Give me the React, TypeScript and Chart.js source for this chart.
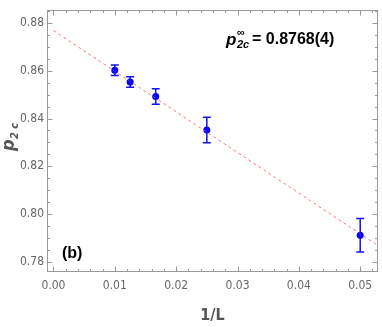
import React, { useEffect, useRef } from "react";
import { Chart, registerables } from "chart.js";

Chart.register(...registerables);

// ---- data ----
const invL = [0.01, 0.0125, 0.01667, 0.025, 0.05];
const p2c = [0.8602, 0.8553, 0.8492, 0.8352, 0.7912];
const p2cErr = [0.0022, 0.0022, 0.0032, 0.0053, 0.007];

const fitX = [0, 0.0527];
const fitY = [0.8768, 0.7872];

const xTicks = [0, 0.01, 0.02, 0.03, 0.04, 0.05];
const yTicks = [0.78, 0.8, 0.82, 0.84, 0.86, 0.88];
const xMinorStep = 0.002;
const yMinorStep = 0.005;

const annotationValue = "= 0.8768(4)";
const panelLabel = "(b)";
const xTitle = "1/L";

const NARROW = "'Liberation Sans Narrow', 'DejaVu Sans Condensed', 'Liberation Sans', sans-serif";
const REGULAR = "'Liberation Sans', Arial, sans-serif";

const FRAME = "#9a9a9a";

function minorValues(min: number, max: number, step: number) {
  const out: number[] = [];
  const start = Math.ceil(min / step - 1e-9);
  const end = Math.floor(max / step + 1e-9);
  for (let i = start; i <= end; i++) out.push(i * step);
  return out;
}

const framePlugin = {
  id: "frameTicks",
  beforeDatasetsDraw(chart: any) {
    const { ctx, chartArea: a, scales } = chart;
    const x = scales.x;
    const y = scales.y;
    const L = Math.round(a.left) + 0.5;
    const R = Math.round(a.right) - 0.5;
    const T = Math.round(a.top) + 0.5;
    const B = Math.round(a.bottom) - 0.5;
    ctx.save();
    ctx.strokeStyle = FRAME;
    ctx.lineWidth = 1;
    ctx.strokeRect(L, T, R - L, B - T);
    ctx.beginPath();
    const xm = minorValues(x.min, x.max, xMinorStep);
    const ym = minorValues(y.min, y.max, yMinorStep);
    const isMajor = (v: number, arr: number[]) => arr.some((t) => Math.abs(t - v) < 1e-7);
    xm.forEach((v) => {
      const len = isMajor(v, xTicks) ? 5 : 2.5;
      const px = Math.round(x.getPixelForValue(v)) + 0.5;
      ctx.moveTo(px, B);
      ctx.lineTo(px, B - len);
      ctx.moveTo(px, T);
      ctx.lineTo(px, T + len);
    });
    ym.forEach((v) => {
      const len = isMajor(v, yTicks) ? 5 : 2.5;
      const py = Math.round(y.getPixelForValue(v)) + 0.5;
      ctx.moveTo(L, py);
      ctx.lineTo(L + len, py);
      ctx.moveTo(R, py);
      ctx.lineTo(R - len, py);
    });
    ctx.stroke();
    ctx.restore();
  },
  afterDatasetsDraw(chart: any) {
    const { ctx, scales } = chart;
    const x = scales.x;
    const y = scales.y;
    ctx.save();
    // error bars
    ctx.strokeStyle = "#1010ff";
    ctx.lineWidth = 1.5;
    ctx.beginPath();
    invL.forEach((v, i) => {
      const px = x.getPixelForValue(v);
      const top = y.getPixelForValue(p2c[i] + p2cErr[i]);
      const bot = y.getPixelForValue(p2c[i] - p2cErr[i]);
      ctx.moveTo(px, top);
      ctx.lineTo(px, bot);
      ctx.moveTo(px - 4, top);
      ctx.lineTo(px + 4, top);
      ctx.moveTo(px - 4, bot);
      ctx.lineTo(px + 4, bot);
    });
    ctx.stroke();

    // y axis title p_{2c}
    ctx.save();
    ctx.translate(0, 136);
    ctx.rotate(-Math.PI / 2);
    ctx.fillStyle = "#555";
    ctx.textBaseline = "alphabetic";
    ctx.textAlign = "left";
    ctx.font = `italic bold 18px ${NARROW}`;
    ctx.fillText("p", -15, 14);
    ctx.font = `italic bold 11px ${NARROW}`;
    ctx.fillText("2 c", -3, 17.5);
    ctx.restore();

    // annotation p^inf_{2c} = ...
    ctx.fillStyle = "#000";
    ctx.textAlign = "left";
    ctx.textBaseline = "alphabetic";
    ctx.font = `italic bold 17px ${REGULAR}`;
    ctx.fillText("p", 226, 45);
    ctx.font = `bold 11px ${REGULAR}`;
    ctx.fillText("\u221E", 237, 36);
    ctx.font = `italic bold 11px ${REGULAR}`;
    ctx.fillText("2c", 237, 48);
    ctx.font = `bold 16px ${REGULAR}`;
    ctx.fillText(annotationValue, 252, 44);

    // panel label
    ctx.font = `bold 16px ${REGULAR}`;
    ctx.fillText(panelLabel, 62, 258);
    ctx.restore();
  },
};

export default function App() {
  const ref = useRef<HTMLCanvasElement | null>(null);
  useEffect(() => {
    document.body.style.margin = "0";
    if (!ref.current) return;
    const chart = new Chart(ref.current, {
      type: "scatter",
      data: {
        datasets: [
          {
            label: "fit",
            data: fitX.map((v, i) => ({ x: v, y: fitY[i] })),
            showLine: true,
            borderColor: "rgba(240,90,90,0.8)",
            borderWidth: 1,
            borderDash: [3, 3],
            pointRadius: 0,
            fill: false,
          },
          {
            label: "p2c",
            data: invL.map((v, i) => ({ x: v, y: p2c[i] })),
            backgroundColor: "#0000ff",
            borderColor: "#0000ff",
            pointRadius: 3.5,
            borderWidth: 0,
          },
        ],
      },
      options: {
        animation: false,
        responsive: true,
        maintainAspectRatio: false,
        layout: { padding: { top: 1, right: 2, left: 0, bottom: 0 } },
        plugins: { legend: { display: false }, tooltip: { enabled: false } },
        scales: {
          x: {
            type: "linear",
            min: -0.00105,
            max: 0.0529,
            grid: { display: false, drawTicks: false },
            border: { display: false },
            afterBuildTicks: (s: any) => {
              s.ticks = xTicks.map((v) => ({ value: v }));
            },
            afterFit: (s: any) => {
              s.height = 55;
            },
            ticks: {
              autoSkip: false,
              maxRotation: 0,
              padding: 7,
              color: "#666",
              font: { family: NARROW, size: 12 },
              callback: (v: any) => Number(v).toFixed(2),
            },
            title: {
              display: true,
              text: xTitle,
              color: "#555",
              font: { family: NARROW, size: 16, weight: "bold" },
              padding: { top: 0, bottom: 2 },
            },
          },
          y: {
            type: "linear",
            min: 0.7758,
            max: 0.8853,
            grid: { display: false, drawTicks: false },
            border: { display: false },
            afterBuildTicks: (s: any) => {
              s.ticks = yTicks.map((v) => ({ value: v }));
            },
            afterFit: (s: any) => {
              s.width = 47;
            },
            ticks: {
              autoSkip: false,
              padding: 3,
              color: "#666",
              font: { family: NARROW, size: 12 },
              callback: (v: any) => Number(v).toFixed(2),
            },
          },
        },
      },
      plugins: [framePlugin],
    });
    return () => chart.destroy();
  }, []);
  return (
    <div style={{ width: 382, height: 327, position: "relative" }}>
      <canvas ref={ref} />
    </div>
  );
}
